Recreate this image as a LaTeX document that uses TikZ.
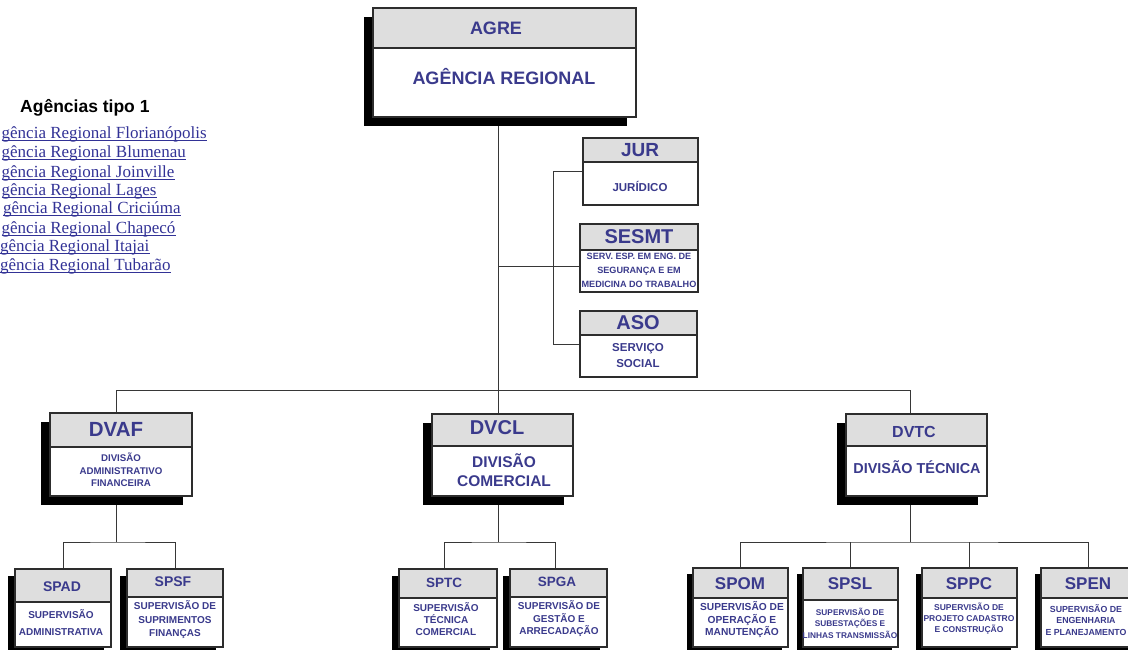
\documentclass[tikz,border=0pt]{standalone}
\usepackage{fontspec}
\setmainfont{Liberation Sans}
\newfontfamily\listfont{Liberation Serif}
\usetikzlibrary{fit}

\definecolor{labelblue}{RGB}{58,58,140}
\definecolor{linkblue}{RGB}{50,50,150}
\definecolor{headgray}{RGB}{222,222,222}
\definecolor{framegray}{RGB}{45,45,45}
\definecolor{wiregray}{RGB}{55,55,55}

\pgfdeclarelayer{wires}
\pgfsetlayers{wires,main}

\tikzset{
  boxframe/.style={draw=framegray, line width=1.3pt, inner sep=0pt},
  wire/.style={draw=wiregray, line width=1pt},
  headtxt/.style={text=labelblue, inner sep=0pt, font=\bfseries\fontsize{#1}{#1}\selectfont},
  bodytxt/.style 2 args={text=labelblue, align=center, inner sep=0pt,
    font=\bfseries\fontsize{#1}{#2}\selectfont},
  linktxt/.style={text=linkblue, anchor=base west, inner sep=0pt,
    font=\listfont\fontsize{17}{17}\selectfont},
  linkrule/.style={draw=linkblue, line width=0.9pt},
}

% unit box: name, left, top, right, bottom, header divider, shadow offset
\newcommand\orgbox[7]{%
  \fill[black] ({#2-#7},{#3+#7}) rectangle ({#4-#7},{#5+#7});
  \fill[white] (#2,#3) rectangle (#4,#5);
  \fill[headgray] (#2,#3) rectangle (#4,#6);
  \draw[framegray, line width=1.1pt] (#2,#6) -- (#4,#6);
  \node[boxframe, fit={(#2,#3) (#4,#5)}] (#1) {};
}

% underlined link text: name, x, baseline y, text
\newcommand\linkentry[4]{%
  \node[linktxt] (#1) at (#2,#3) {#4};
  \draw[linkrule] ([yshift=-2pt]#1.base west) -- ([yshift=-2pt]#1.base east);
}

\begin{document}
\begin{tikzpicture}[x=1pt, y=-1pt]
\useasboundingbox (0,0) rectangle (1128,649);
\clip (0,0) rectangle (1128,649);

% ---------- top level ----------
\orgbox{agre}{373}{8}{636}{117}{48}{9}
\node[headtxt=18] (agre-h) at (496,28) {AGRE};
\node[headtxt=18] (agre-b) at (504,77) {AGÊNCIA REGIONAL};

% ---------- staff units ----------
\orgbox{jur}{583}{138}{698}{205}{162}{0}
\node[headtxt=19] (jur-h) at (640,150) {JUR};
\node[headtxt=11.5] (jur-b) at (640,186) {JURÍDICO};

\orgbox{sesmt}{580}{224}{698}{292}{250}{0}
\node[headtxt=20] (sesmt-h) at (639,237) {SESMT};
\node[bodytxt={9.1}{14}] (sesmt-b) at (639,270)
  {SERV. ESP. EM ENG. DE\\SEGURANÇA E EM\\MEDICINA DO TRABALHO};

\orgbox{aso}{580}{311}{697}{377}{335}{0}
\node[headtxt=20] (aso-h) at (638,323) {ASO};
\node[bodytxt={11.5}{16}] (aso-b) at (638,356) {SERVIÇO\\SOCIAL};

% ---------- divisions ----------
\orgbox{dvaf}{50}{413}{192}{496}{447}{9}
\node[headtxt=20.5] (dvaf-h) at (116,429) {DVAF};
\node[bodytxt={9.7}{12.5}] (dvaf-b) at (121,470) {DIVISÃO\\ADMINISTRATIVO\\FINANCEIRA};

\orgbox{dvcl}{432}{414}{573}{496}{446}{9}
\node[headtxt=20] (dvcl-h) at (497,428) {DVCL};
\node[bodytxt={15.5}{19}] (dvcl-b) at (504,470) {DIVISÃO\\COMERCIAL};

\orgbox{dvtc}{846}{414}{987}{496}{446}{9}
\node[headtxt=16] (dvtc-h) at (914,432) {DVTC};
\node[headtxt=14.4] (dvtc-b) at (917,467) {DIVISÃO TÉCNICA};

% ---------- supervisions ----------
\orgbox{spad}{15}{569}{111}{647}{602}{7}
\node[headtxt=14] (spad-h) at (62,587) {SPAD};
\node[bodytxt={10}{17}] (spad-b) at (61,623) {SUPERVISÃO\\ADMINISTRATIVA};

\orgbox{spsf}{127}{569}{223}{647}{597}{7}
\node[headtxt=14] (spsf-h) at (173,582) {SPSF};
\node[bodytxt={10}{13.5}] (spsf-b) at (175,620) {SUPERVISÃO DE\\SUPRIMENTOS\\FINANÇAS};

\orgbox{sptc}{399}{569}{497}{647}{598}{7}
\node[headtxt=13.5] (sptc-h) at (444,583) {SPTC};
\node[bodytxt={10}{12}] (sptc-b) at (446,619) {SUPERVISÃO\\TÉCNICA\\COMERCIAL};

\orgbox{spga}{510}{569}{607}{647}{597}{7}
\node[headtxt=13.5] (spga-h) at (557,582) {SPGA};
\node[bodytxt={10}{12.5}] (spga-b) at (559,619) {SUPERVISÃO DE\\GESTÃO E\\ARRECADAÇÃO};

\orgbox{spom}{693}{568}{788}{647}{598}{6}
\node[headtxt=17] (spom-h) at (740,584) {SPOM};
\node[bodytxt={10.2}{12.5}] (spom-b) at (742,620) {SUPERVISÃO DE\\OPERAÇÃO E\\MANUTENÇÃO};

\orgbox{spsl}{803}{568}{898}{647}{600}{6}
\node[headtxt=17] (spsl-h) at (850,584) {SPSL};
\node[bodytxt={8.3}{11.5}] (spsl-b) at (850,623) {SUPERVISÃO DE\\SUBESTAÇÕES E\\LINHAS TRANSMISSÃO};

\orgbox{sppc}{922}{568}{1017}{647}{598}{6}
\node[headtxt=17] (sppc-h) at (969,584) {SPPC};
\node[bodytxt={8.5}{11}] (sppc-b) at (969,619) {SUPERVISÃO DE\\PROJETO CADASTRO\\E CONSTRUÇÃO};

\orgbox{spen}{1041}{568}{1136}{647}{598}{6}
\node[headtxt=17] (spen-h) at (1088,584) {SPEN};
\node[bodytxt={8.8}{11.5}] (spen-b) at (1086,620) {SUPERVISÃO DE\\ENGENHARIA\\E PLANEJAMENTO};

% ---------- connectors ----------
\coordinate (trunk) at (498,390);
\coordinate (busL) at (116,390);
\coordinate (busR) at (910,390);
\coordinate (staffx) at (553,0);
\coordinate (sesmtjoin) at (498,266);
\coordinate (dvafsub) at (116,542);
\coordinate (dvclsub) at (498,542);
\coordinate (dvtcsub) at (910,542);

\begin{pgfonlayer}{wires}
  \draw[wire] (agre.south -| trunk) -- (trunk);
  \draw[wire] (busL) -- (busR);
  \draw[wire] (busL) -- (busL |- dvaf.north);
  \draw[wire] (trunk) -- (trunk |- dvcl.north);
  \draw[wire] (busR) -- (busR |- dvtc.north);
  % staff units
  \draw[wire] (jur.west) -- (jur.west -| staffx) -- (aso.west -| staffx) -- (aso.west);
  \draw[wire] (sesmtjoin) -- (sesmtjoin -| sesmt.west);
  % supervisions
  \draw[wire] (dvaf.south -| dvafsub) -- (dvafsub);
  \draw[wire] (spad.north) |- (dvafsub) -| (spsf.north);
  \draw[wire] (dvcl.south -| dvclsub) -- (dvclsub);
  \draw[wire] ([xshift=-4pt]sptc.north) |- (dvclsub) -| ([xshift=-3pt]spga.north);
  \draw[wire] (dvtc.south -| dvtcsub) -- (dvtcsub);
  \draw[wire] (spom.north) |- (dvtcsub) -| (spen.north);
  \draw[wire] (spsl.north) -- (spsl.north |- dvtcsub);
  \draw[wire] (sppc.north) -- (sppc.north |- dvtcsub);
\end{pgfonlayer}

% ---------- list of type 1 agencies ----------
\node[anchor=base west, inner sep=0pt, font=\bfseries\fontsize{17.5}{17.5}\selectfont] (list-h) at (20,112) {Agências tipo 1};
\linkentry{ag1}{1.5}{138}{gência Regional Florianópolis}
\linkentry{ag2}{1.5}{157}{gência Regional Blumenau}
\linkentry{ag3}{1.5}{177}{gência Regional Joinville}
\linkentry{ag4}{1.5}{195}{gência Regional Lages}
\linkentry{ag5}{3}{213}{gência Regional Criciúma}
\linkentry{ag6}{1.5}{233}{gência Regional Chapecó}
\linkentry{ag7}{0}{251}{gência Regional Itajai}
\linkentry{ag8}{0}{270}{gência Regional Tubarão}
\end{tikzpicture}
\end{document}
